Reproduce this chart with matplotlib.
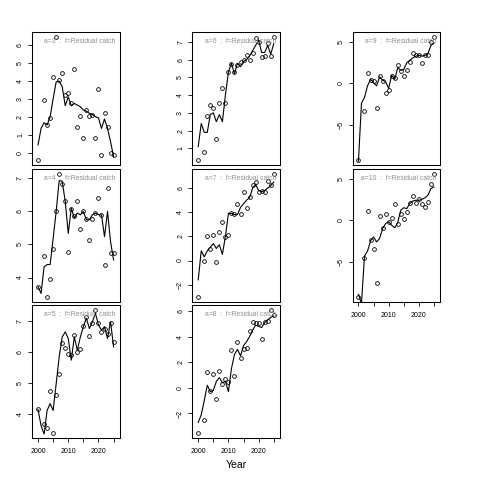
import numpy as np
import matplotlib
matplotlib.use('Agg')
import matplotlib.pyplot as plt
from matplotlib.ticker import MultipleLocator, FixedLocator, FixedFormatter

plt.rcParams['font.family'] = ['Liberation Sans', 'DejaVu Sans']

nan = np.nan
years = list(range(2000, 2026))
ages = [3, 4, 5, 6, 7, 8, 9, 10]
x_tick_years = [2000, 2005, 2010, 2015, 2020, 2025]
x_tick_labels = ['2000', '', '2010', '', '2020', '']
fleet = 'Residual catch'

obs_a3 = [-0.41, nan, 2.93, 1.54, 1.91, 4.22, 6.44, 4.04, 4.44, 3.20, 3.33, 2.74, 4.65,
          1.41, 2.04, 0.83, 2.37, 2.04, 2.09, 0.83, 3.54, -0.15, 2.20, 1.44, 0.00, -0.15]
fit_a3 = [0.43, 1.35, 1.67, 1.54, 2.00, 3.00, 3.94, 3.98, 3.67, 2.61, 3.11, 2.61, 2.74,
          2.65, 2.56, 2.37, 2.31, 2.19, 2.13, 2.00, 1.94, 1.35, 1.87, 1.35, 0.61, -0.22]

obs_a4 = [3.70, nan, 4.65, 3.41, 3.94, 4.85, 5.99, 7.12, 6.83, 6.31, 4.78, 6.06, 5.85,
          6.31, 5.45, 5.99, 5.75, 5.13, 5.75, 5.94, 6.39, 5.89, 4.39, 6.70, 4.73, 4.73]
fit_a4 = [3.72, 3.52, 4.32, 4.39, 4.39, 5.18, 5.99, 6.92, 6.90, 6.29, 5.33, 6.09, 5.79,
          5.94, 5.89, 5.99, 5.74, 5.74, 5.89, 5.94, 5.89, 5.89, 5.23, 5.99, 5.08, 4.53]

obs_a5 = [4.15, nan, 3.69, 3.55, 4.75, 3.39, 4.63, 5.28, 6.28, 6.14, 5.93, 5.90, 6.55,
          5.99, 6.09, 6.84, 7.14, 6.53, 6.95, 7.36, 6.95, 6.65, 6.76, 6.58, 6.95, 6.33]
fit_a5 = [4.15, 3.63, 3.36, 4.12, 4.34, 4.12, 4.98, 5.85, 6.49, 6.65, 6.44, 5.74, 6.49,
          6.06, 6.49, 6.82, 7.09, 6.76, 6.98, 7.25, 6.87, 6.71, 6.82, 6.44, 6.98, 6.17]

obs_a6 = [0.34, nan, 0.81, 2.85, 3.45, 3.28, 1.53, 3.57, 4.42, 3.57, 5.30, 5.77, 5.30,
          5.68, 5.87, 5.96, 6.25, 5.96, 6.40, 7.23, 7.00, 6.15, 6.21, 6.91, 6.21, 7.28]
fit_a6 = [1.10, 2.40, 1.90, 1.90, 2.90, 3.00, 2.50, 2.90, 2.50, 4.00, 5.30, 5.80, 5.20,
          5.80, 5.60, 5.90, 6.00, 6.20, 6.50, 6.80, 7.10, 6.40, 6.40, 6.80, 6.30, 6.90]

obs_a7 = [-3.03, nan, -0.06, 2.03, 0.92, 2.11, -0.11, 2.39, 3.17, 1.97, 2.11, 3.92, 3.83,
          4.69, 3.83, 5.64, 4.39, 5.25, 6.28, 6.47, 5.67, 5.78, 5.67, 6.56, 6.28, 7.17]
fit_a7 = [-1.60, 0.80, 0.30, 0.80, 1.10, 1.40, 1.00, 1.30, 0.50, 2.00, 3.90, 3.90, 3.80,
          3.80, 4.40, 4.70, 5.00, 5.20, 6.00, 6.30, 5.80, 5.70, 5.80, 6.00, 6.20, 6.50]

obs_a8 = [-3.53, nan, -2.54, 1.22, -0.26, 1.07, -0.89, 1.33, 0.33, 0.67, 0.46, 2.95, 0.93,
          3.60, 2.29, 3.00, 3.13, 4.46, 5.16, 5.03, 5.03, 3.81, 5.16, 5.24, 6.08, 5.69]
fit_a8 = [-2.70, -2.10, -1.00, 0.20, -0.30, -0.20, 0.50, 0.80, 0.40, 0.50, -0.30, 1.50, 2.60,
          3.00, 2.50, 3.30, 3.60, 4.00, 4.50, 4.90, 4.80, 4.70, 5.10, 5.30, 5.50, 5.60]

obs_a9 = [-9.27, nan, -3.32, 1.21, 0.40, 0.24, -3.00, 0.85, 0.30, -1.17, -0.85, 0.85, 0.65,
          2.27, 1.54, 0.85, 1.66, 2.55, 3.68, 3.48, 3.40, 2.47, 3.48, 3.40, 4.98, 5.63]
fit_a9 = [-9.40, -2.40, -1.70, -0.30, 0.50, 0.10, -0.30, 0.80, 0.40, 0.20, -0.60, 1.00, 0.50,
          1.90, 1.60, 1.70, 2.50, 2.80, 3.10, 3.30, 3.40, 3.30, 3.40, 3.60, 4.60, 4.90]

obs_a10 = [-9.23, nan, -4.48, 1.05, -2.40, -3.47, -7.54, 0.52, -0.90, 0.77, -0.24, 0.24, 1.98,
           -0.44, 0.77, 0.12, 0.93, 2.06, 2.86, 2.06, 2.54, 1.98, 1.57, 2.14, 4.35, 5.56]
fit_a10 = [-8.90, -10.00, -4.30, -3.70, -2.50, -2.00, -2.60, -2.20, -1.00, -0.40, -0.20, -0.60,
           -0.90, -0.30, 1.20, 1.50, 1.40, 2.00, 2.30, 2.40, 2.40, 2.50, 2.70, 3.00, 3.80, 4.00]

observed = {3: obs_a3, 4: obs_a4, 5: obs_a5, 6: obs_a6, 7: obs_a7, 8: obs_a8, 9: obs_a9, 10: obs_a10}
fitted = {3: fit_a3, 4: fit_a4, 5: fit_a5, 6: fit_a6, 7: fit_a7, 8: fit_a8, 9: fit_a9, 10: fit_a10}

# layout (style only)
col_left = [0.0673, 0.401, 0.7348]
col_w = 0.1819
row_bottom = [0.6563, 0.3708, 0.0875]
row_h = 0.2771
grid = {3: (0, 0), 4: (0, 1), 5: (0, 2), 6: (1, 0), 7: (1, 1), 8: (1, 2), 9: (2, 0), 10: (2, 1)}
ystep = {3: 1, 4: 1, 5: 1, 6: 1, 7: 2, 8: 2, 9: 5, 10: 5}
bottom_panels = {5, 8, 10}

fig = plt.figure(figsize=(4.8, 4.8), dpi=100)

for a in ages:
    c, r = grid[a]
    ax = fig.add_axes([col_left[c], row_bottom[r], col_w, row_h])
    yo = np.array(observed[a], dtype=float)
    yf = np.array(fitted[a], dtype=float)
    ax.plot(years, yf, color='black', lw=0.8)
    ax.plot(years, yo, linestyle='none', marker='o', ms=2.7, mfc='none',
            mec='black', mew=0.6)
    lo, hi = np.nanmin(yo), np.nanmax(yo)
    pad = 0.04 * (hi - lo)
    ax.set_ylim(lo - pad, hi + pad)
    ax.set_xlim(1998.1, 2027.0)
    ax.yaxis.set_major_locator(MultipleLocator(ystep[a]))
    ax.tick_params(axis='y', labelsize=5, length=3, width=0.6, pad=3, labelrotation=90)
    for lab in ax.get_yticklabels():
        lab.set_va('center')
    if a in bottom_panels:
        ax.xaxis.set_major_locator(FixedLocator(x_tick_years))
        ax.xaxis.set_major_formatter(FixedFormatter(x_tick_labels))
        ax.tick_params(axis='x', labelsize=5, length=3, width=0.6, pad=4)
    else:
        ax.set_xticks([])
    for s in ax.spines.values():
        s.set_linewidth(0.75)
    ax.text(0.955, 0.932, f'a={a}  :  f={fleet}', transform=ax.transAxes,
            ha='right', va='center', fontsize=4.85, color='#8f8f8f')

fig.text(0.4925, 0.031, 'Year', ha='center', va='center', fontsize=7.5)

fig.savefig('out.png', dpi=100)
